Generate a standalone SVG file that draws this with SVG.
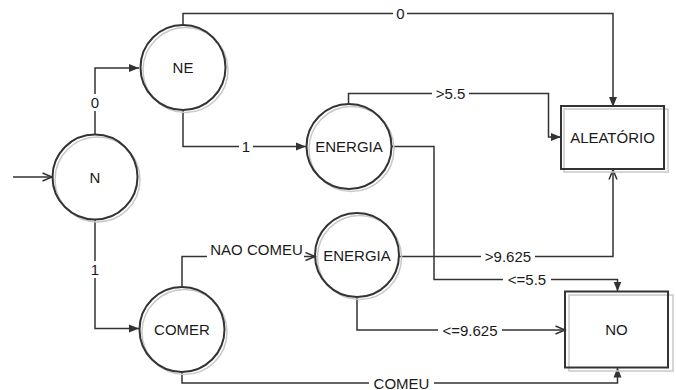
<svg xmlns="http://www.w3.org/2000/svg" width="676" height="390" viewBox="0 0 676 390">
<defs>
<style>
.state{fill:none;stroke:#333;stroke-width:2}
.shadow{fill:none;stroke:#c8c8c8;stroke-width:1.5}
.box{fill:none;stroke:#333;stroke-width:2}
.edge{fill:none;stroke:#333;stroke-width:1.5}
.filled{marker-end:url(#arrF)}
.open{marker-end:url(#arrO)}
.lbg{fill:#fff;stroke:none}
text{font-family:"Liberation Sans",Arial,sans-serif;font-size:15px;fill:#1a1a1a;text-anchor:middle}
</style>
<marker id="arrF" markerUnits="userSpaceOnUse" markerWidth="11" markerHeight="9" refX="10" refY="4.5" orient="auto">
<path d="M0,0.5 L10,4.5 L0,8.5 z" fill="#333"/>
</marker>
<marker id="arrO" markerUnits="userSpaceOnUse" markerWidth="12" markerHeight="10" refX="10.5" refY="5" orient="auto">
<path d="M1,1 L10.5,5 L1,9" fill="none" stroke="#333" stroke-width="1.5"/>
</marker>
</defs>
<rect width="676" height="390" fill="#fff"/>

<g id="connectors">
<path class="edge open" d="M13,177 H52"/>
<path class="edge filled" d="M95,135 V68 H139"/>
<path class="edge filled" d="M95,219 V328.5 H139"/>
<path class="edge filled" d="M183,25 V13.5 H613 V107"/>
<path class="edge filled" d="M183,110 V146.5 H306"/>
<path class="edge filled" d="M348.5,104.5 V93.5 H548.5 V137 H561"/>
<path class="edge filled" d="M391,146.5 H434 V279.5 H617.5 V291.5"/>
<path class="edge open" d="M399,256.5 H613 V170"/>
<path class="edge open" d="M357,297 V330 H565"/>
<path class="edge open" d="M182,287 V256.5 H315"/>
<path class="edge filled" d="M182,372 V383 H617.5 V367.5"/>

<rect class="lbg" x="393" y="5" width="14" height="17"/>
<text x="400.5" y="18.5">0</text>
<rect class="lbg" x="88" y="94" width="14" height="17"/>
<text x="95" y="108">0</text>
<rect class="lbg" x="88" y="261" width="14" height="17"/>
<text x="95" y="275">1</text>
<rect class="lbg" x="239" y="138" width="14" height="17"/>
<text x="246" y="152">1</text>
<rect class="lbg" x="432" y="85" width="37" height="17"/>
<text x="450.5" y="99">&gt;5.5</text>
<rect class="lbg" x="481" y="248" width="54" height="17"/>
<text x="508" y="262">&gt;9.625</text>
<rect class="lbg" x="503" y="271" width="48" height="17"/>
<text x="527" y="285">&lt;=5.5</text>
<rect class="lbg" x="438" y="322" width="64" height="17"/>
<text x="470" y="335.5">&lt;=9.625</text>
<rect class="lbg" x="369" y="375" width="65" height="15"/>
<text x="401.5" y="388.5">COMEU</text>
<rect class="lbg" x="207" y="243" width="97" height="16"/>
<text x="256.5" y="255">NAO COMEU</text>
</g>

<g id="node-N">
<circle class="shadow" cx="97.5" cy="179.5" r="42.5"/>
<circle class="state" cx="95" cy="177" r="42.5"/>
<text x="95" y="182.5">N</text>
</g>
<g id="node-NE">
<circle class="shadow" cx="185.5" cy="70" r="42.5"/>
<circle class="state" cx="183" cy="67.5" r="42.5"/>
<text x="183" y="73">NE</text>
</g>
<g id="node-ENERGIA1">
<circle class="shadow" cx="351.5" cy="149" r="42.5"/>
<circle class="state" cx="349" cy="146.5" r="42.5"/>
<text x="349" y="152">ENERGIA</text>
</g>
<g id="node-ENERGIA2">
<circle class="shadow" cx="359.5" cy="257.5" r="42"/>
<circle class="state" cx="357" cy="255" r="42"/>
<text x="357" y="261">ENERGIA</text>
</g>
<g id="node-COMER">
<circle class="shadow" cx="184.5" cy="332" r="42.5"/>
<circle class="state" cx="182" cy="329.5" r="42.5"/>
<text x="182" y="335">COMER</text>
</g>
<g id="node-ALEATORIO">
<rect class="shadow" x="564" y="109" width="104" height="63"/>
<rect class="box" x="561" y="106" width="103" height="63"/>
<text x="612.5" y="143">ALEATÓRIO</text>
</g>
<g id="node-NO">
<rect class="shadow" x="569" y="295" width="104" height="76"/>
<rect class="box" x="565" y="291.5" width="103" height="76"/>
<text x="616.5" y="335">NO</text>
</g>
</svg>
